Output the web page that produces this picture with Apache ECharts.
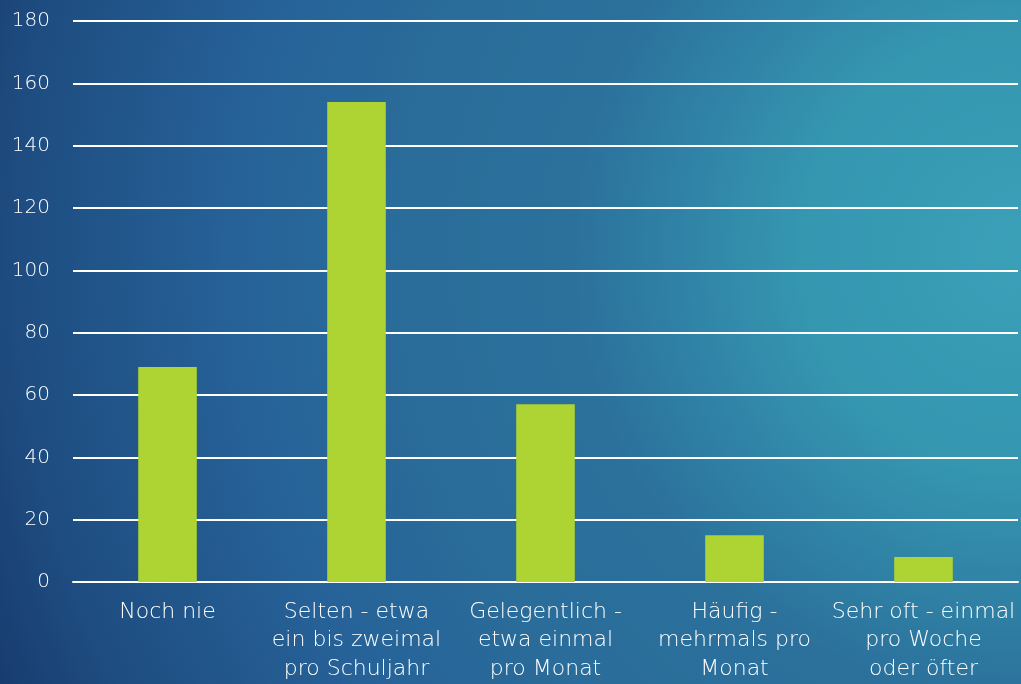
<!DOCTYPE html>
<html>
<head>
<meta charset="utf-8">
<script src="https://cdn.jsdelivr.net/npm/echarts@6/dist/echarts.min.js"></script>
<style>
html,body{margin:0;padding:0;width:1021px;height:684px;overflow:hidden;}
#chart{width:1021px;height:684px;}
</style>
</head>
<body>
<div id="chart"></div>
<script>
const categories = [
  "Noch nie",
  "Selten - etwa\nein bis zweimal\npro Schuljahr",
  "Gelegentlich -\netwa einmal\npro Monat",
  "Häufig -\nmehrmals pro\nMonat",
  "Sehr oft - einmal\npro Woche\noder öfter"
];
const values = [69, 154, 57, 15, 8];
const yMin = 0, yMax = 180, yStep = 20;

const chart = echarts.init(document.getElementById('chart'));
chart.setOption({
  backgroundColor: {
    type: 'radial', x: 1021, y: 250, r: 1120, global: true,
    colorStops: [
      { offset: 0, color: '#3aa0b8' },
      { offset: 0.2, color: '#3596b0' },
      { offset: 0.4, color: '#2b719c' },
      { offset: 0.55, color: '#2a6c9a' },
      { offset: 0.7, color: '#266298' },
      { offset: 0.9, color: '#1e4c80' },
      { offset: 1, color: '#173a6e' }
    ]
  },
  animation: false,
  grid: { left: 73, right: 3, top: 21, bottom: 102, containLabel: false },
  xAxis: {
    type: 'category',
    data: categories,
    axisLine: { show: true, lineStyle: { color: '#ffffff', width: 2 } },
    axisTick: { show: false },
    axisLabel: {
      color: '#ffffff', fontFamily: 'DejaVu Sans', fontWeight: 200, fontSize: 22, lineHeight: 28.5,
      margin: 16, interval: 0
    }
  },
  yAxis: {
    type: 'value', min: yMin, max: yMax, interval: yStep,
    axisLine: { show: false },
    axisTick: { show: false },
    splitLine: { lineStyle: { color: '#ffffff', width: 2 } },
    axisLabel: { color: '#ffffff', fontFamily: 'DejaVu Sans', fontWeight: 200, fontSize: 20, margin: 23 }
  },
  series: [{
    type: 'bar',
    data: values,
    barWidth: '31%',
    itemStyle: { color: '#add433' }
  }]
});
</script>
</body>
</html>
